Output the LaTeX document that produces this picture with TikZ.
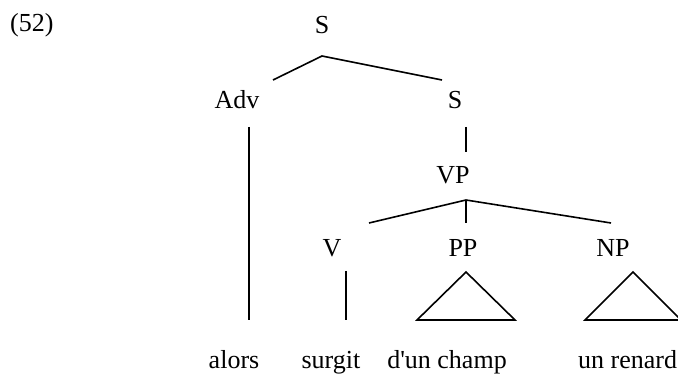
\documentclass[tikz,border=0pt]{standalone}
\usepackage{fontspec}
\setmainfont{Liberation Serif}
\usetikzlibrary{positioning}
\tikzset{
  cat/.style={anchor=base,inner sep=0pt,font=\fontsize{26}{30}\selectfont},
  branch/.style={line width=1.6pt},
}

\begin{document}
\begin{tikzpicture}[x=1pt,y=-1pt]
  \useasboundingbox (0,0) rectangle (678,374);
  % example number
  \node[cat,anchor=base west] (num) at (10,32) {(52)};
  % categories
  \node[cat] (s) at (322,34) {S};
  \node[cat] (adv) at (237,109) {Adv};
  \node[cat] (s2) at (455,109) {S};
  \node[cat] (vp) at (453,184) {VP};
  \node[cat] (v) at (332,257) {V};
  \node[cat] (pp) at (463,257) {PP};
  \node[cat] (np) at (613,257) {NP};
  % words
  \node[cat] (alors) at (234,368) {alors};
  \node[cat] (surgit) at (331,368) {surgit};
  \node[cat] (champ) at (447,368) {d\textquotesingle un champ};
  \node[cat,anchor=base west] (renard) at (578,368) {un renard};
  % branch ends
  \coordinate (s-top) at (322,56);
  \coordinate (adv-top) at (273,80);
  \coordinate (s2-top) at (442,80);
  \coordinate (adv-a) at (249,127); \coordinate (adv-b) at (249,320);
  \coordinate (s2-a) at (466,127); \coordinate (vp-top) at (466,152);
  \coordinate (vp-a) at (466,200);
  \coordinate (v-top) at (369,223); \coordinate (pp-top) at (466,223); \coordinate (np-top) at (611,223);
  \coordinate (v-a) at (346,271); \coordinate (v-b) at (346,320);
  \draw[branch] (adv-top) -- (s-top) -- (s2-top);
  \draw[branch] (adv-a) -- (adv-b);
  \draw[branch] (s2-a) -- (vp-top);
  \draw[branch] (v-top) -- (vp-a) -- (np-top);
  \draw[branch] (vp-a) -- (pp-top);
  \draw[branch] (v-a) -- (v-b);
  % triangles
  \draw[branch] (466,272) -- (417,320) -- (515,320) -- cycle;
  \draw[branch] (633,272) -- (585,320) -- (681,320) -- cycle;
\end{tikzpicture}
\end{document}
